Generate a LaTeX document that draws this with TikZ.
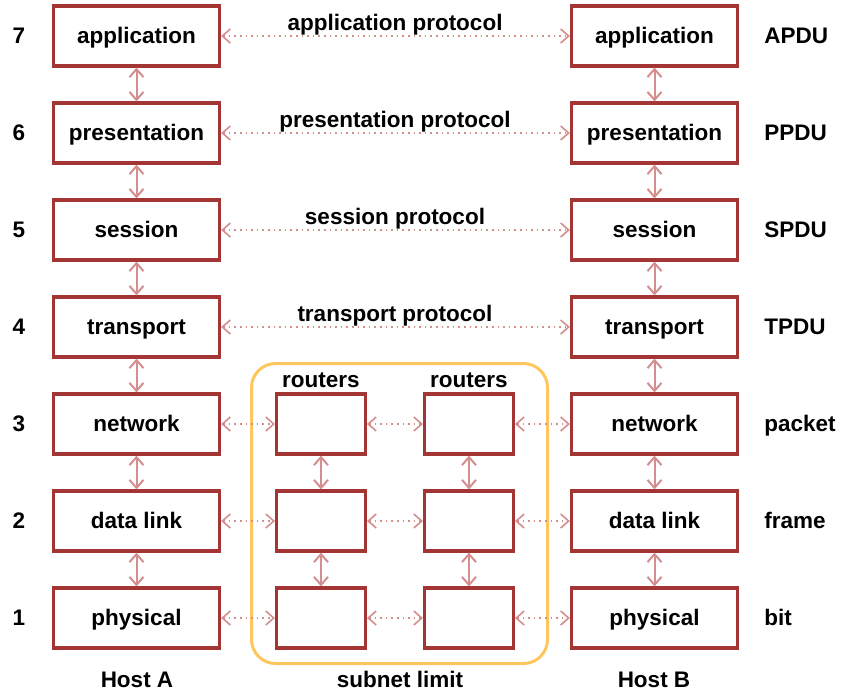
\documentclass[tikz,border=0pt]{standalone}
\usepackage{fontspec}
\setmainfont{Liberation Sans}
\usetikzlibrary{arrows.meta}
\definecolor{boxred}{HTML}{A33535}
\definecolor{arrowpink}{HTML}{D48E8E}
\definecolor{subnetorange}{HTML}{FFC65E}
\newcommand\osilbl{\fontsize{11.25}{13}\selectfont\bfseries}
\begin{document}
\begin{tikzpicture}[x=0.5pt,y=-0.5pt,
  layerbox/.style={draw=boxred,line width=1.6pt,fill=white,minimum width=83pt,minimum height=30pt,inner sep=0pt,font=\osilbl,text height=7pt,text depth=0pt},
  routerbox/.style={layerbox,minimum width=44.4pt},
  lbl/.style={font=\osilbl,inner sep=0pt,text height=7pt,text depth=0pt},
  peer/.style={draw=arrowpink,line width=0.8pt,dotted,{Straight Barb[length=4pt,width=7pt]}-{Straight Barb[length=4pt,width=7pt]}},
  stack/.style={draw=arrowpink,line width=1pt,{Straight Barb[length=4pt,width=7pt]}-{Straight Barb[length=4pt,width=7pt]}}
]
\useasboundingbox (0,0) rectangle (842,693);
\node[draw=subnetorange,line width=1.5pt,rounded corners=12pt,minimum width=148pt,minimum height=150pt,inner sep=0pt] (subnet) at (399.5,513.5) {};
\foreach \n/\t in {7/application,6/presentation,5/session,4/transport,3/network,2/data link,1/physical}{
  \pgfmathsetmacro\yy{36+97*(7-\n)}
  \node[layerbox] (a\n) at (136.5,\yy) {\t};
  \node[layerbox] (b\n) at (654.5,\yy) {\t};
  \node[lbl] (num\n) at (19,\yy) {\n};
}
\foreach \n/\t in {7/APDU,6/PPDU,5/SPDU,4/TPDU,3/packet,2/frame,1/bit}{
  \pgfmathsetmacro\yy{36+97*(7-\n)}
  \node[lbl,anchor=west] (pdu\n) at (764,\yy) {\t};
}
\foreach \n in {7,...,2}{
  \pgfmathtruncatemacro\m{\n-1}
  \draw[stack] (a\n) -- (a\m);
  \draw[stack] (b\n) -- (b\m);
}
\foreach \n/\t in {7/application protocol,6/presentation protocol,5/session protocol,4/transport protocol}{
  \pgfmathsetmacro\yy{36+97*(7-\n)-6}
  \draw[peer] (a\n) -- (b\n);
  \node[lbl,anchor=base] (prot\n) at (395,\yy) {\t};
}
\foreach \n in {3,2,1}{
  \pgfmathsetmacro\yy{36+97*(7-\n)}
  \node[routerbox] (rl\n) at (321,\yy) {};
  \node[routerbox] (rr\n) at (469,\yy) {};
  \draw[peer] (a\n) -- (rl\n);
  \draw[peer] (rl\n) -- (rr\n);
  \draw[peer] (rr\n) -- (b\n);
}
\draw[stack] (rl3) -- (rl2);
\draw[stack] (rl2) -- (rl1);
\draw[stack] (rr3) -- (rr2);
\draw[stack] (rr2) -- (rr1);
\node[lbl,anchor=base] (routersL) at (321,387) {routers};
\node[lbl,anchor=base] (routersR) at (469,387) {routers};
\node[lbl,anchor=base] (hostA) at (137,687) {Host A};
\node[lbl,anchor=base] (sublim) at (400,687) {subnet limit};
\node[lbl,anchor=base] (hostB) at (654,687) {Host B};
\end{tikzpicture}
\end{document}
